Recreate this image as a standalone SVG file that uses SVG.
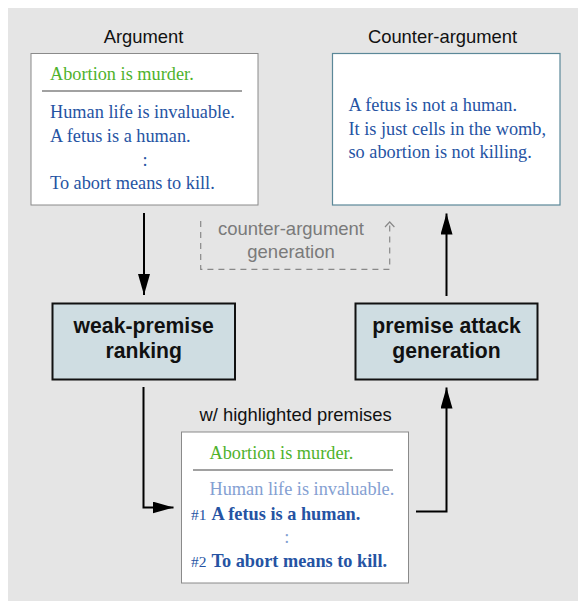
<svg xmlns="http://www.w3.org/2000/svg" width="578" height="601" viewBox="0 0 578 601">
<style>
.lbl{font-family:"Liberation Sans",Arial,sans-serif;font-size:18.4px;fill:#111;}
.proc{font-family:"Liberation Sans",Arial,sans-serif;font-size:21.2px;font-weight:bold;fill:#111;}
.ser{font-family:"Liberation Serif","Times New Roman",serif;font-size:18.3px;}
.green{fill:#4fb22c;}
.blue{fill:#2553a3;}
.light{fill:#84a0d2;}
.dash{font-family:"Liberation Sans",Arial,sans-serif;font-size:18.5px;fill:#7a7a7a;}
.pbox{fill:#cfdde2;stroke:#111;stroke-width:2;}
.conn{fill:none;stroke:#000;stroke-width:2;}
</style>
<defs>
<marker id="ah" markerWidth="22" markerHeight="12" refX="21" refY="6" orient="auto" markerUnits="userSpaceOnUse">
<path d="M0,0 L21,6 L0,12 Z" fill="#000"/>
</marker>
</defs>
<rect x="8" y="8" width="570" height="593" fill="#e5e5e5"/>

<g id="argument">
<text class="lbl" x="143.5" y="43" text-anchor="middle">Argument</text>
<rect x="31" y="53.5" width="227" height="151.5" fill="#fff" stroke="#8a8a8a" stroke-width="1"/>
<text class="ser green" x="50" y="80">Abortion is murder.</text>
<line x1="42" y1="91" x2="242" y2="91" stroke="#444" stroke-width="1.2"/>
<text class="ser blue" x="50" y="118">Human life is invaluable.</text>
<text class="ser blue" x="50" y="142">A fetus is a human.</text>
<text class="ser blue" x="145" y="165.5" text-anchor="middle">:</text>
<text class="ser blue" x="50" y="189">To abort means to kill.</text>
</g>

<g id="counter-argument">
<text class="lbl" x="442.5" y="43" text-anchor="middle">Counter-argument</text>
<rect x="332.5" y="53.5" width="227.5" height="151.5" fill="#fff" stroke="#5b8898" stroke-width="1.2"/>
<text class="ser blue" x="348.5" y="111">A fetus is not a human.</text>
<text class="ser blue" x="348.5" y="134.5">It is just cells in the womb,</text>
<text class="ser blue" x="348.5" y="158">so abortion is not killing.</text>
</g>

<g id="weak-premise-ranking">
<rect class="pbox" x="52.5" y="303.5" width="182.5" height="76"/>
<text class="proc" x="143.7" y="333" text-anchor="middle">weak-premise</text>
<text class="proc" x="143.7" y="358" text-anchor="middle">ranking</text>
</g>

<g id="premise-attack-generation">
<rect class="pbox" x="355.5" y="303.5" width="182" height="76"/>
<text class="proc" x="446.5" y="333" text-anchor="middle">premise attack</text>
<text class="proc" x="446.5" y="358" text-anchor="middle">generation</text>
</g>

<g id="highlighted">
<text class="lbl" x="295.5" y="420.5" text-anchor="middle">w/ highlighted premises</text>
<rect x="181.5" y="432" width="227" height="151" fill="#fff" stroke="#8a8a8a" stroke-width="1"/>
<text class="ser green" x="209.5" y="459">Abortion is murder.</text>
<line x1="193" y1="470" x2="393" y2="470" stroke="#444" stroke-width="1.2"/>
<text class="ser light" x="209.5" y="495">Human life is invaluable.</text>
<text class="ser blue" x="191" y="519.5" style="font-size:15.5px">#1</text>
<text class="ser blue" x="211.5" y="519.5" font-weight="bold">A fetus is a human.</text>
<text class="ser light" x="286.7" y="542.5" text-anchor="middle">:</text>
<text class="ser blue" x="191" y="566.5" style="font-size:15.5px">#2</text>
<text class="ser blue" x="211.5" y="566.5" font-weight="bold">To abort means to kill.</text>
</g>

<g id="connectors">
<line class="conn" x1="144" y1="213" x2="144" y2="295" marker-end="url(#ah)"/>
<polyline class="conn" points="143.5,387 143.5,507.5 173.5,507.5" marker-end="url(#ah)"/>
<polyline class="conn" points="416,511.5 446.5,511.5 446.5,387.5" marker-end="url(#ah)"/>
<line class="conn" x1="446.5" y1="296" x2="446.5" y2="213.5" marker-end="url(#ah)"/>
<g id="counter-argument-generation">
<polyline points="200.7,221 200.7,269.3 389.7,269.3 389.7,224" fill="none" stroke="#888" stroke-width="1.2" stroke-dasharray="6,5"/>
<polyline points="385,227 389.7,222 394.4,227" fill="none" stroke="#888" stroke-width="1.2"/>
<text class="dash" x="291" y="235" text-anchor="middle">counter-argument</text>
<text class="dash" x="291" y="258" text-anchor="middle">generation</text>
</g>
</g>
</svg>
